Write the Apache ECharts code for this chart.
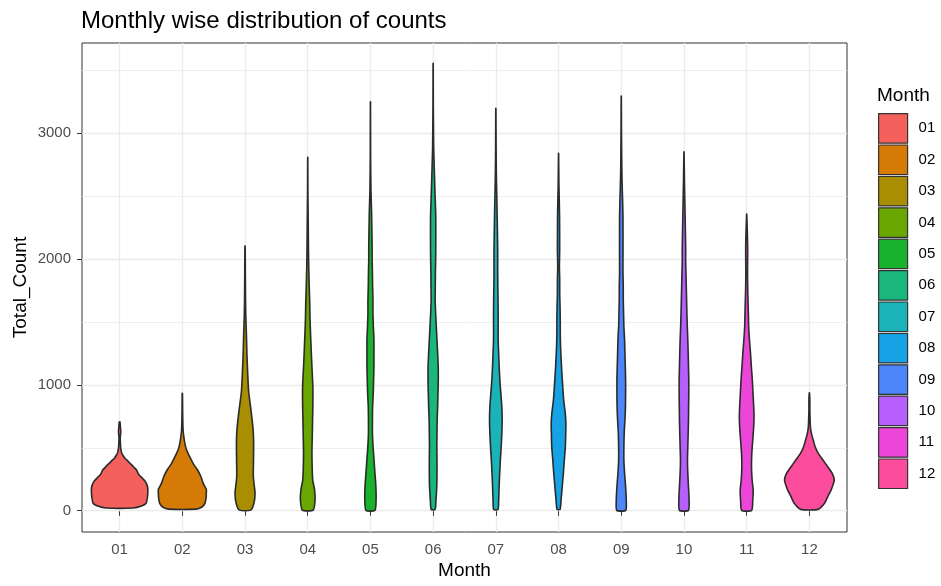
<!DOCTYPE html>
<html>
<head>
<meta charset="utf-8">
<script src="https://cdn.jsdelivr.net/npm/echarts@6/dist/echarts.min.js"></script>
<style>
  html, body { margin: 0; padding: 0; background: #ffffff; }
  #chart { width: 941px; height: 586px; }
</style>
</head>
<body>
<div id="chart"></div>
<script>
// Months on the x axis and their fill colours
const months = ['01', '02', '03', '04', '05', '06', '07', '08', '09', '10', '11', '12'];
const monthColors = ['#F4605C', '#D67A06', '#A88E00', '#6AA600', '#19B22D', '#19B77C',
                     '#19B3B8', '#15A3E6', '#4D85FA', '#B65FFC', '#EC46D9', '#FB4C9E'];

// Axis ticks
const yTicks = [0, 1000, 2000, 3000];
const yMinorTicks = [500, 1500, 2500, 3500];

// Kernel density outline of Total_Count per month: [Total_Count, relative density]
// (relative density 1 = the widest point of all violins)
const density01 = [[22, 0.48], [40, 0.80], [59, 0.94], [100, 0.98], [150, 1.0], [191, 0.99], [230, 0.92],
  [260, 0.80], [290, 0.67], [324, 0.60], [350, 0.49], [377, 0.37], [400, 0.27], [416, 0.19], [440, 0.12],
  [456, 0.08], [496, 0.04], [540, 0.027], [588, 0.023], [615, 0.038], [640, 0.038], [670, 0.027], [707, 0.01]];
const density02 = [[13, 0.48], [30, 0.70], [59, 0.80], [100, 0.84], [140, 0.85], [170, 0.85], [218, 0.74],
  [270, 0.66], [324, 0.54], [377, 0.38], [430, 0.26], [483, 0.15], [536, 0.089], [588, 0.053], [642, 0.027],
  [721, 0.016], [800, 0.01], [933, 0.005]];
const density03 = [[5, 0.20], [60, 0.315], [140, 0.355], [220, 0.315], [280, 0.293], [400, 0.30], [540, 0.305],
  [640, 0.288], [750, 0.238], [850, 0.182], [950, 0.127], [1100, 0.093], [1250, 0.066], [1400, 0.049],
  [1550, 0.027], [1700, 0.016], [1900, 0.01], [2104, 0.004]];
const density04 = [[5, 0.193], [85, 0.26], [165, 0.243], [244, 0.177], [324, 0.16], [456, 0.149], [588, 0.16],
  [721, 0.171], [854, 0.182], [986, 0.182], [1118, 0.154], [1251, 0.127], [1383, 0.104], [1516, 0.082],
  [1649, 0.071], [1781, 0.053], [1913, 0.038], [2046, 0.027], [2311, 0.016], [2550, 0.006], [2810, 0.002]];
const density05 = [[3, 0.16], [85, 0.20], [191, 0.193], [297, 0.16], [403, 0.127], [509, 0.093], [615, 0.071],
  [721, 0.071], [827, 0.077], [933, 0.10], [1039, 0.112], [1145, 0.124], [1251, 0.124], [1357, 0.124],
  [1463, 0.104], [1569, 0.089], [1675, 0.089], [1781, 0.077], [1887, 0.071], [1993, 0.06], [2100, 0.06],
  [2364, 0.041], [2549, 0.018], [2814, 0.006], [3251, 0.002]];
const density06 = [[10, 0.071], [85, 0.10], [191, 0.127], [297, 0.136], [403, 0.136], [509, 0.13], [615, 0.136],
  [721, 0.142], [827, 0.16], [933, 0.171], [1039, 0.182], [1145, 0.18], [1251, 0.16], [1357, 0.136],
  [1463, 0.112], [1569, 0.089], [1675, 0.071], [1808, 0.077], [1887, 0.08], [2072, 0.093], [2337, 0.093],
  [2523, 0.066], [2708, 0.041], [2867, 0.021], [2947, 0.016], [3211, 0.006], [3556, 0.002]];
const density07 = [[10, 0.077], [85, 0.10], [191, 0.116], [297, 0.136], [403, 0.16], [509, 0.189], [615, 0.212],
  [721, 0.224], [827, 0.212], [933, 0.177], [1039, 0.142], [1145, 0.118], [1251, 0.10], [1357, 0.082],
  [1463, 0.082], [1569, 0.082], [1675, 0.077], [1781, 0.071], [1887, 0.066], [1993, 0.066], [2072, 0.066],
  [2337, 0.047], [2470, 0.036], [2655, 0.018], [2900, 0.008], [3199, 0.002]];
const density08 = [[10, 0.053], [85, 0.089], [191, 0.13], [297, 0.171], [403, 0.204], [509, 0.242], [615, 0.254],
  [695, 0.26], [774, 0.238], [880, 0.182], [986, 0.149], [1092, 0.118], [1198, 0.093], [1304, 0.071],
  [1410, 0.06], [1516, 0.06], [1622, 0.053], [1728, 0.041], [1834, 0.041], [1940, 0.03], [2072, 0.04],
  [2337, 0.036], [2602, 0.012], [2841, 0.002]];
const density09 = [[3, 0.16], [85, 0.177], [191, 0.154], [297, 0.118], [403, 0.093], [509, 0.093], [615, 0.104],
  [721, 0.13], [827, 0.149], [933, 0.154], [1039, 0.154], [1145, 0.143], [1251, 0.13], [1357, 0.118],
  [1463, 0.093], [1569, 0.082], [1675, 0.071], [1781, 0.071], [1887, 0.06], [1993, 0.06], [2072, 0.062],
  [2337, 0.06], [2470, 0.047], [2602, 0.03], [2734, 0.018], [3000, 0.008], [3296, 0.002]];
const density10 = [[3, 0.16], [85, 0.182], [191, 0.16], [297, 0.136], [403, 0.124], [509, 0.136], [615, 0.149],
  [721, 0.16], [827, 0.165], [933, 0.171], [1039, 0.171], [1145, 0.16], [1251, 0.149], [1357, 0.136],
  [1463, 0.118], [1569, 0.104], [1675, 0.093], [1781, 0.082], [1887, 0.071], [1993, 0.06], [2072, 0.062],
  [2337, 0.041], [2602, 0.018], [2854, 0.002]];
const density11 = [[3, 0.177], [85, 0.216], [165, 0.23], [244, 0.193], [350, 0.171], [456, 0.182], [562, 0.216],
  [668, 0.249], [747, 0.26], [827, 0.249], [933, 0.224], [1039, 0.2], [1145, 0.166], [1251, 0.136],
  [1357, 0.1], [1463, 0.071], [1569, 0.06], [1675, 0.047], [1781, 0.036], [1887, 0.03], [2072, 0.036],
  [2205, 0.024], [2358, 0.002]];
const density12 = [[11, 0.305], [59, 0.538], [111, 0.649], [165, 0.771], [244, 0.882], [297, 0.81], [350, 0.649],
  [403, 0.482], [456, 0.316], [509, 0.204], [562, 0.136], [615, 0.071], [668, 0.036], [747, 0.023],
  [800, 0.016], [880, 0.016], [938, 0.004]];

const densities = [density01, density02, density03, density04, density05, density06,
                   density07, density08, density09, density10, density11, density12];

// Widest violin spans 0.9 of a category slot
const VIOLIN_WIDTH = 0.9;

function violinRenderer(profile) {
  return function (params, api) {
    const x = api.value(0);
    const half = VIOLIN_WIDTH / 2;
    const leftSide = profile.map(p => api.coord([x - p[1] * half, p[0]]));
    const rightSide = profile.slice().reverse().map(p => api.coord([x + p[1] * half, p[0]]));
    return {
      type: 'polygon',
      shape: { points: leftSide.concat(rightSide), smooth: 0.2 },
      style: { fill: api.visual('color'), stroke: '#2B2B2B', lineWidth: 1.6, lineJoin: 'round' }
    };
  };
}

const chart = echarts.init(document.getElementById('chart'), null, { renderer: 'canvas' });

const FONT = 'Liberation Sans, Arial, Helvetica, sans-serif';

chart.setOption({
  animation: false,
  backgroundColor: '#ffffff',
  color: monthColors,
  title: [
    {
      text: 'Monthly wise distribution of counts',
      left: 81, top: 9, padding: 0,
      textStyle: { fontFamily: FONT, fontSize: 24, fontWeight: 'normal', color: '#000000' }
    },
    {
      text: 'Month',
      left: 877, top: 86, padding: 0,
      textStyle: { fontFamily: FONT, fontSize: 19, fontWeight: 'normal', color: '#000000' }
    }
  ],
  legend: {
    orient: 'vertical',
    left: 878, top: 113, padding: 0,
    itemWidth: 29, itemHeight: 29.5, itemGap: 0.7,
    icon: 'rect',
    selectedMode: false,
    data: months,
    itemStyle: { borderColor: '#333333', borderWidth: 1.2 },
    textStyle: { fontFamily: FONT, fontSize: 15, color: '#000000', padding: [0, 0, 0, 6] }
  },
  grid: {
    left: 82, top: 43, right: 94, bottom: 54,
    outerBoundsMode: 'none', containLabel: false,
    show: true, borderColor: '#333333', borderWidth: 1, backgroundColor: 'transparent'
  },
  xAxis: {
    type: 'value',
    min: 0.4, max: 12.6,
    name: 'Month', nameLocation: 'middle', nameGap: 29, nameMoveOverlap: false,
    nameTextStyle: { fontFamily: FONT, fontSize: 19, color: '#000000' },
    axisLine: { show: false },
    axisTick: { show: true, length: 5, lineStyle: { color: '#333333' },
                customValues: months.map((m, i) => i + 1) },
    axisLabel: { fontFamily: FONT, fontSize: 15, color: '#4D4D4D', margin: 10,
                 customValues: months.map((m, i) => i + 1),
                 formatter: v => months[Math.round(v) - 1] },
    splitLine: { show: true, lineStyle: { color: '#EBEBEB', width: 1.3 } }
  },
  yAxis: [
    {
      type: 'value',
      min: -169, max: 3718,
      name: 'Total_Count', nameLocation: 'middle', nameGap: 52, nameRotate: 90, nameMoveOverlap: false,
      nameTextStyle: { fontFamily: FONT, fontSize: 19, color: '#000000' },
      axisLine: { show: false },
      axisTick: { show: true, length: 5, lineStyle: { color: '#333333' }, customValues: yTicks },
      axisLabel: { fontFamily: FONT, fontSize: 15, color: '#4D4D4D', margin: 11, customValues: yTicks,
                   formatter: v => String(v) },
      splitLine: { show: true, lineStyle: { color: '#EBEBEB', width: 1.3 } },
      z: 1
    },
    {
      type: 'value',
      min: -169, max: 3718,
      axisLine: { show: false },
      axisTick: { show: false, customValues: yMinorTicks },
      axisLabel: { show: false, customValues: yMinorTicks },
      splitLine: { show: true, lineStyle: { color: '#EBEBEB', width: 0.8 } },
      z: 0
    }
  ],
  series: months.map((m, i) => ({
    type: 'custom',
    name: m,
    xAxisIndex: 0,
    yAxisIndex: 0,
    itemStyle: { color: monthColors[i] },
    encode: { x: 0, y: 1 },
    data: [[i + 1, densities[i][0][0]]],
    renderItem: violinRenderer(densities[i]),
    z: 3
  }))
});
</script>
</body>
</html>
